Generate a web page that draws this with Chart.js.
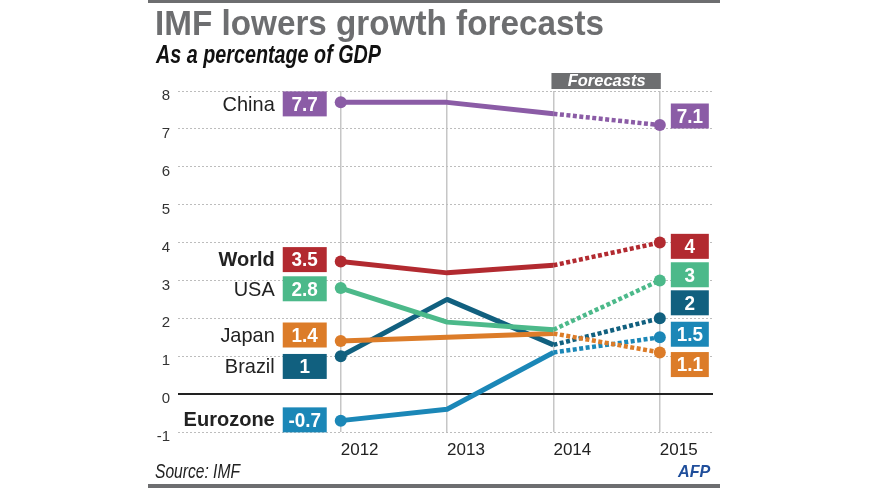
<!DOCTYPE html>
<html>
<head>
<meta charset="utf-8">
<script src="https://cdn.jsdelivr.net/npm/chart.js@4.4.1/dist/chart.umd.min.js"></script>
<style>
  html, body { margin: 0; padding: 0; background: #fff; }
  canvas { display: block; }
</style>
</head>
<body>
<canvas id="imfChart" width="870" height="488"></canvas>
<script>
const years = [2012, 2013, 2014, 2015];
const countries = ["China", "World", "USA", "Japan", "Brazil", "Eurozone"];
const china = [7.7, 7.7, 7.4, 7.1];
const world = [3.5, 3.2, 3.4, 4];
const usa = [2.8, 1.9, 1.7, 3];
const japan = [1.4, 1.5, 1.6, 1.1];
const brazil = [1, 2.5, 1.3, 2];
const eurozone = [-0.7, -0.4, 1.1, 1.5];
const yTicks = [-1, 0, 1, 2, 3, 4, 5, 6, 7, 8];
const forecastFrom = 2014;

// label layout (value units where the tags sit, nudged apart like the original)
const leftTagAt = [7.66, 3.55, 2.78, 1.56, 0.73, -0.68];
const rightTagAt = [7.34, 3.9, 3.15, 0.78, 2.41, 1.58];
const boldNames = ["World", "Eurozone"];

const colors = {
      China: "#8b5ca6",
      World: "#b22a30",
      USA: "#4cb98a",
      Japan: "#dc7c29",
      Brazil: "#11607f",
      Eurozone: "#1b87b7",
};

const series = [china, world, usa, japan, brazil, eurozone];
const FONT = "'Liberation Sans', Arial, Helvetica, sans-serif";
const GREY = "#6d6e70";

function text(ctx, str, x, y, font, color, align, baseline, squeeze) {
      ctx.save();
      ctx.font = font;
      ctx.fillStyle = color;
      ctx.textAlign = align;
      ctx.textBaseline = baseline;
      ctx.translate(x, y);
      ctx.scale(squeeze || 1, 1);
      ctx.fillText(str, 0, 0);
      ctx.restore();
}

const decor = {
      id: "decor",
      beforeDraw(chart) {
            const ctx = chart.ctx;
            ctx.save();
            ctx.fillStyle = GREY;
            ctx.fillRect(148, 0, 572, 3);
            ctx.fillRect(148, 484, 572, 4);
            ctx.restore();
            text(ctx, "IMF lowers growth forecasts", 155, 35, "bold 35px " + FONT, GREY, "left", "alphabetic", 0.95);
            text(ctx, "As a percentage of GDP", 156, 63, "italic bold 25px " + FONT, "#111", "left", "alphabetic", 0.79);
            text(ctx, "Source: IMF", 155, 478, "italic 20px " + FONT, "#222", "left", "alphabetic", 0.78);
            text(ctx, "AFP", 678, 477, "italic bold 17px " + FONT, "#1f4e9b", "left", "alphabetic", 0.95);
      },
      beforeDatasetsDraw(chart) {
            const { ctx, chartArea, scales } = chart;
            const y0 = scales.y.getPixelForValue(0);
            ctx.save();
            ctx.strokeStyle = "#222";
            ctx.lineWidth = 2;
            ctx.beginPath();
            ctx.moveTo(chartArea.left, y0);
            ctx.lineTo(chartArea.right, y0);
            ctx.stroke();
            ctx.restore();
      },
      afterDraw(chart) {
            const { ctx, scales } = chart;
            const xs = scales.x;
            const ys = scales.y;
            const xFirst = xs.getPixelForValue(years[0]);
            const xLast = xs.getPixelForValue(years[years.length - 1]);
            const xFc = xs.getPixelForValue(forecastFrom);

            // forecasts tab
            ctx.save();
            ctx.fillStyle = GREY;
            ctx.fillRect(xFc - 2, 73, xLast - xFc + 3, 16);
            ctx.restore();
            text(ctx, "Forecasts", (xFc + xLast) / 2, 81.5, "italic bold 17px " + FONT, "#fff", "center", "middle", 0.97);

            countries.forEach((name, i) => {
                  const c = colors[name];
                  const vals = series[i];
                  // left tag
                  let cy = ys.getPixelForValue(leftTagAt[i]);
                  ctx.fillStyle = c;
                  ctx.fillRect(xFirst - 58, cy - 12.5, 44, 25);
                  text(ctx, String(vals[0]), xFirst - 36, cy + 1, "bold 21px " + FONT, "#fff", "center", "middle", 0.9);
                  const bold = boldNames.includes(name);
                  text(ctx, name, xFirst - 66, cy + 1, (bold ? "bold 20px " : "21px ") + FONT, "#222", "right", "middle", bold ? 1 : 0.95);
                  // right tag
                  cy = ys.getPixelForValue(rightTagAt[i]);
                  ctx.fillStyle = c;
                  ctx.fillRect(xLast + 11, cy - 12.5, 38, 25);
                  text(ctx, String(vals[vals.length - 1]), xLast + 30, cy + 1, "bold 21px " + FONT, "#fff", "center", "middle", 0.9);
            });
      },
};

const datasets = countries.map((name, i) => ({
      label: name,
      data: years.map((yr, j) => ({ x: yr, y: series[i][j] })),
      borderColor: colors[name],
      backgroundColor: colors[name],
      borderWidth: 5,
      borderJoinStyle: "round",
      borderCapStyle: "butt",
      pointRadius: years.map((yr, j) => (j === 0 || j === years.length - 1 ? 6 : 0)),
      pointHoverRadius: 0,
      pointBorderWidth: 0,
      pointBackgroundColor: colors[name],
      clip: false,
      segment: {
            borderDash: (c) => (years[c.p0DataIndex] >= forecastFrom ? [4, 2.5] : undefined),
            borderWidth: (c) => (years[c.p0DataIndex] >= forecastFrom ? 4.5 : undefined),
      },
}));

new Chart(document.getElementById("imfChart"), {
      type: "line",
      data: { datasets: datasets },
      options: {
            responsive: false,
            animation: false,
            events: [],
            layout: { padding: { left: 140, right: 157, top: 91, bottom: 26 } },
            plugins: {
                  legend: { display: false },
                  tooltip: { enabled: false },
            },
            scales: {
                  x: {
                        type: "linear",
                        min: 2010.47,
                        max: 2015.5,
                        afterBuildTicks: (scale) => {
                              scale.ticks = years.map((v) => ({ value: v }));
                        },
                        afterFit: (scale) => {
                              scale.height = 30;
                        },
                        grid: { color: "#c6c6c6", lineWidth: 1.5, drawTicks: false },
                        border: { display: false },
                        ticks: {
                              align: "start",
                              padding: 8,
                              color: "#222",
                              font: { family: FONT, size: 17 },
                              callback: (v) => String(v),
                        },
                  },
                  y: {
                        min: -1,
                        max: 8,
                        afterBuildTicks: (scale) => {
                              scale.ticks = yTicks.map((v) => ({ value: v }));
                        },
                        afterFit: (scale) => {
                              scale.width = 38;
                        },
                        grid: {
                              color: (c) => (c.tick && c.tick.value === 0 ? "rgba(0,0,0,0)" : "#bdbdbd"),
                              lineWidth: 1,
                              drawTicks: false,
                        },
                        border: { display: false, dash: [2, 2] },
                        ticks: {
                              padding: 8,
                              labelOffset: 5,
                              color: "#333",
                              font: { family: FONT, size: 15 },
                        },
                  },
            },
      },
      plugins: [decor],
});
</script>
</body>
</html>
